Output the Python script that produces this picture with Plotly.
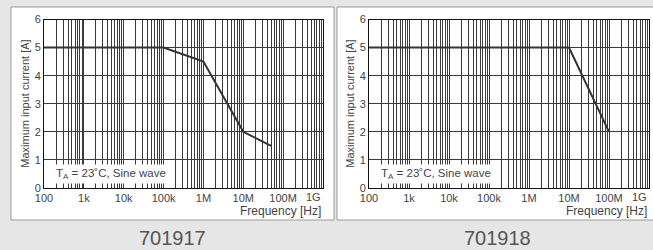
import plotly.graph_objects as go

# ---- data ----
freq_917 = [100, 1e5, 1e6, 1e7, 5e7]
curr_917 = [5, 5, 4.5, 2, 1.5]
freq_918 = [100, 1e7, 1e8]
curr_918 = [5, 5, 2]
decade_vals = [1e2, 1e3, 1e4, 1e5, 1e6, 1e7, 1e8, 1e9]
decade_labels = ["100", "1k", "10k", "100k", "1M", "10M", "100M", "1G"]
y_ticks = [0, 1, 2, 3, 4, 5, 6]
titles = ["701917", "701918"]

W, H = 653, 250
def px(x): return x / W
def py(y): return 1 - y / H

minor_vals = [d * m for d in decade_vals[:-1] for m in range(2, 10)]

fig = go.Figure()
fig.add_trace(go.Scatter(x=freq_917, y=curr_917, mode="lines",
                         line=dict(color="#333333", width=2), xaxis="x", yaxis="y",
                         showlegend=False, hoverinfo="skip"))
fig.add_trace(go.Scatter(x=freq_918, y=curr_918, mode="lines",
                         line=dict(color="#333333", width=2), xaxis="x2", yaxis="y2",
                         showlegend=False, hoverinfo="skip"))

fam = "Liberation Sans, Arial, sans-serif"
tcol = "#444444"
font = dict(family=fam, size=11, color=tcol)
gridc = "#3a3a3a"
xcommon = dict(type="log", range=[2, 9], tickvals=decade_vals[:-1], ticktext=decade_labels[:-1],
               showgrid=True, gridcolor=gridc, gridwidth=1, ticks="",
               minor=dict(tickvals=minor_vals, showgrid=True, gridcolor=gridc, gridwidth=1, ticks=""),
               showline=True, linecolor="#111111", linewidth=1, mirror=True,
               zeroline=False, tickfont=font, automargin=False)
ycommon = dict(range=[0, 6], tickvals=y_ticks, showgrid=True, gridcolor=gridc,
               gridwidth=1, ticks="", showline=True, linecolor="#111111", linewidth=1,
               mirror=True, zeroline=False, tickfont=font, automargin=False)

plots = [(44, 323), (369, 649)]
top, bottom = 19.5, 188

fig.update_layout(
    template="none",
    width=W, height=H, margin=dict(l=0, r=0, t=0, b=0, autoexpand=False),
    paper_bgcolor="#e6e6e6", plot_bgcolor="white",
    xaxis=dict(domain=[px(plots[0][0]), px(plots[0][1])], anchor="y", **xcommon),
    yaxis=dict(domain=[py(bottom), py(top)], anchor="x", **ycommon),
    xaxis2=dict(domain=[px(plots[1][0]), px(plots[1][1])], anchor="y2", **xcommon),
    yaxis2=dict(domain=[py(bottom), py(top)], anchor="x2", **ycommon),
)

panels = [(11, 334), (337, 660)]
for (x0, x1) in panels:
    fig.add_shape(type="rect", xref="paper", yref="paper",
                  x0=px(x0), x1=px(x1), y0=py(220), y1=py(7),
                  fillcolor="white", line=dict(color="#9a9a9a", width=1), layer="below")

title_cx = [172, 497]
for i, (l, r) in enumerate(plots):
    xr = "x" if i == 0 else "x2"
    fig.add_annotation(xref=xr, yref="paper", x=9, y=py(196.5),
                       xanchor="right", yanchor="middle", text=decade_labels[-1],
                       showarrow=False, font=font)
    fig.add_annotation(xref="paper", yref="paper", x=px(l - 19), y=py((top + bottom) / 2),
                       xanchor="center", yanchor="middle",
                       text="Maximum input current [A]", textangle=-90, showarrow=False,
                       font=dict(family=fam, size=11, color=tcol))
    fig.add_annotation(xref="paper", yref="paper", x=px(r), y=py(210.5),
                       xanchor="right", yanchor="middle",
                       text="Frequency [Hz]", showarrow=False,
                       font=dict(family=fam, size=12, color=tcol))
    fig.add_annotation(xref="paper", yref="paper", x=px(l + 9), y=py(174),
                       xanchor="left", yanchor="middle",
                       text="T<sub>A</sub> = 23˚C, Sine wave", showarrow=False,
                       bgcolor="white", borderpad=2,
                       font=dict(family=fam, size=11.5, color=tcol))
    fig.add_annotation(xref="paper", yref="paper", x=px(title_cx[i]), y=py(238),
                       xanchor="center", yanchor="middle",
                       text=titles[i], showarrow=False,
                       font=dict(family=fam, size=20, color="#555555"))

fig.write_html("out.html", config={"displayModeBar": False},
               post_script="document.body.style.margin='0';")
